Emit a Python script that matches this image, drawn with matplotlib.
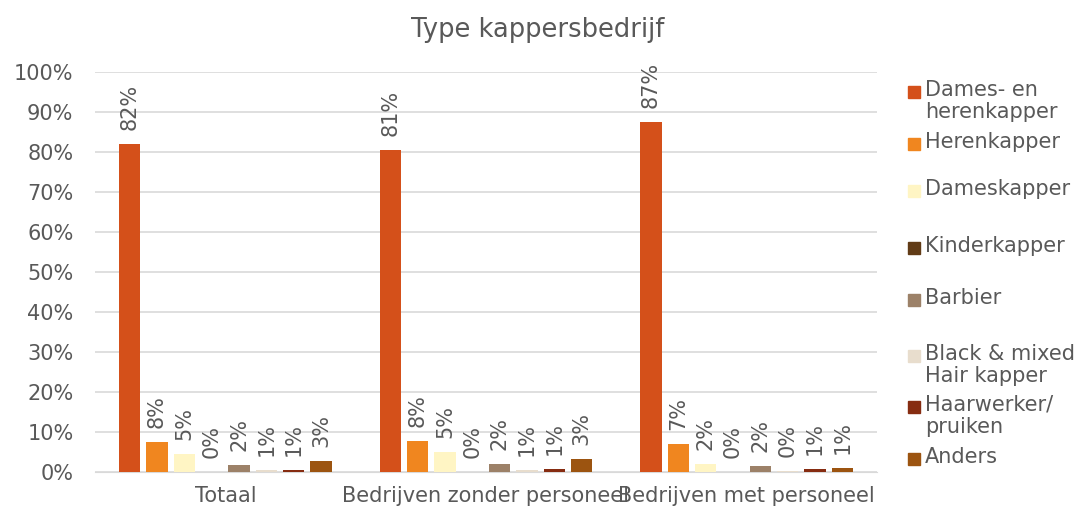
import numpy as np
import matplotlib
matplotlib.use("Agg")
import matplotlib.pyplot as plt
from matplotlib.patches import Rectangle

groups = ["Totaal", "Bedrijven zonder personeel", "Bedrijven met personeel"]
types = ["Dames- en\nherenkapper", "Herenkapper", "Dameskapper", "Kinderkapper",
         "Barbier", "Black & mixed\nHair kapper", "Haarwerker/\npruiken", "Anders"]
colors = ["#D4501A", "#F0861F", "#FFF5C4", "#613B16", "#9C8168", "#E8DDCD", "#862C11", "#9C5410"]

# percentages per type, one value per group
values = [
  [82.0, 80.6, 87.5],
  [7.6, 7.8, 7.0],
  [4.5, 5.1, 1.9],
  [0.0, 0.0, 0.0],
  [1.8, 1.9, 1.6],
  [0.5, 0.6, 0.2],
  [0.6, 0.7, 0.7],
  [2.7, 3.2, 0.9],
]
labels = [
  ["82%", "81%", "87%"],
  ["8%", "8%", "7%"],
  ["5%", "5%", "2%"],
  ["0%", "0%", "0%"],
  ["2%", "2%", "2%"],
  ["1%", "1%", "0%"],
  ["1%", "1%", "1%"],
  ["3%", "3%", "1%"],
]

txt = "#595959"
fig = plt.figure(figsize=(10.8, 5.12), dpi=100)
ax = fig.add_axes([95/1080, 40/512, (877-95)/1080, 400/512])

x = np.arange(len(groups))
w = 0.082
step = 0.105
for i, (vals, col) in enumerate(zip(values, colors)):
  pos = x + (i - 3.5) * step
  ax.bar(pos, vals, width=w, color=col, zorder=3)
  for p, v, l in zip(pos, vals, labels[i]):
    ax.text(p, v + 3.5, l, rotation=90, ha="center", va="bottom", fontsize=15, color=txt)

ax.set_ylim(0, 100)
ax.set_xlim(-0.5, 2.5)
ax.set_yticks(range(0, 101, 10))
ax.set_yticklabels(["{}%".format(t) for t in range(0, 101, 10)])
ax.set_xticks(x)
ax.set_xticklabels(groups)
ax.tick_params(length=0, labelsize=15, labelcolor=txt)
ax.tick_params(axis="x", pad=10)
ax.tick_params(axis="y", pad=15.5)
ax.grid(axis="y", color="#D9D9D9", linewidth=1.2, zorder=0)
for s in ["top", "right", "left"]:
  ax.spines[s].set_visible(False)
ax.spines["bottom"].set_color("#D9D9D9")

fig.text(538/1080, 1 - 30/512, "Type kappersbedrijf", ha="center", va="center", fontsize=18.5, color=txt)

# legend drawn by hand to match the uneven spacing
legend_y = [92, 144, 191, 248, 300, 356, 407, 459]
for lbl, col, yy in zip(types, colors, legend_y):
  fig.add_artist(Rectangle((908/1080, 1 - (yy + 6)/512), 12/1080, 12/512, color=col, transform=fig.transFigure))
  fig.text(925/1080, 1 - (yy - 12)/512, lbl, ha="left", va="top", fontsize=15, color=txt, linespacing=1.1)

fig.savefig("out.png", dpi=100, facecolor="white")
